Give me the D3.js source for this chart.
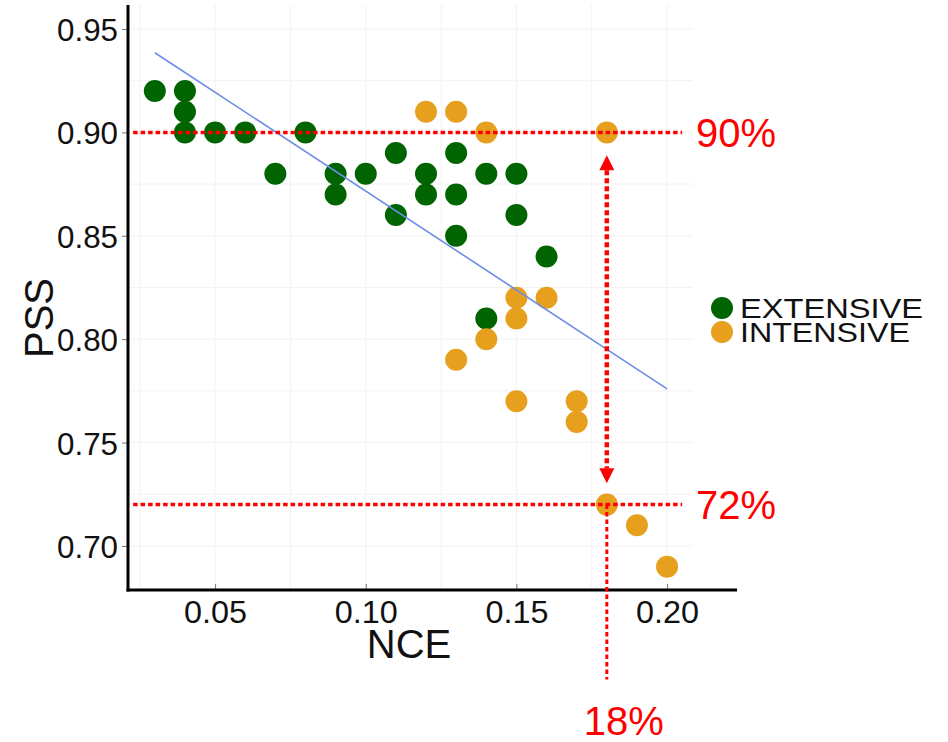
<!DOCTYPE html>
<html>
<head>
<meta charset="utf-8">
<script src="https://cdn.jsdelivr.net/npm/d3@7"></script>
<style>
  body { margin: 0; background: #fff; }
  text { font-family: "Liberation Sans", Arial, sans-serif; }
</style>
</head>
<body>
<div id="container"></div>
<script>
//-----------------------------DATA-----------------------------//
var extX = [0.03, 0.04, 0.04, 0.04, 0.05, 0.06, 0.07, 0.08, 0.09, 0.09, 0.10,
            0.11, 0.11, 0.12, 0.12, 0.13, 0.13, 0.13, 0.14, 0.14, 0.15, 0.15, 0.16];
var extY = [0.92, 0.92, 0.91, 0.90, 0.90, 0.90, 0.88, 0.90, 0.88, 0.87, 0.88,
            0.89, 0.86, 0.88, 0.87, 0.89, 0.87, 0.85, 0.88, 0.81, 0.88, 0.86, 0.84];

var intX = [0.12, 0.13, 0.14, 0.18, 0.15, 0.15, 0.16, 0.14, 0.13, 0.15, 0.17, 0.17, 0.18, 0.19, 0.20];
var intY = [0.91, 0.91, 0.90, 0.90, 0.82, 0.81, 0.82, 0.80, 0.79, 0.77, 0.77, 0.76, 0.72, 0.71, 0.69];

// fitted line at its two ends
var trendX = [0.03, 0.20];
var trendY = [0.9385, 0.776];

var xTicks = [0.05, 0.10, 0.15, 0.20];
var yTicks = [0.70, 0.75, 0.80, 0.85, 0.90, 0.95];
var xMinor = [0.025, 0.075, 0.125, 0.175];
var yMinor = [0.725, 0.775, 0.825, 0.875, 0.925];

var groups = ["EXTENSIVE", "INTENSIVE"];
var groupColors = ["#006400", "#e6a01e"];

// annotation: reference levels
var refLevels = [0.90, 0.72];
var refLabels = ["90%", "72%"];
var refSpan = [0.0228, 0.205];
var refX = 0.18;
var refXLabel = "18%";
var arrowSpan = [0.8889, 0.7303];
var dropSpan = [0.72, 0.6354];

//-----------------------------SVG------------------------------//
const width = 948;
const height = 742;
const svg = d3.select("div#container").append("svg")
    .attr("width", width)
    .attr("height", height);

//----------------------------SCALES----------------------------//
const xScale = d3.scaleLinear().domain([0.0211, 0.2086]).range([128, 693]);
const yScale = d3.scaleLinear().domain([0.6787, 0.9616]).range([590, 5]);
const color = d3.scaleOrdinal().domain(groups).range(groupColors);

//-----------------------------GRID-----------------------------//
const grid = svg.append("g");
grid.selectAll("line.vx")
    .data(xTicks.concat(xMinor))
    .enter().append("line")
    .attr("x1", d => xScale(d)).attr("x2", d => xScale(d))
    .attr("y1", yScale.range()[0]).attr("y2", yScale.range()[1])
    .attr("stroke", "#f2f2f2").attr("stroke-width", 1);
grid.selectAll("line.hy")
    .data(yTicks.concat(yMinor))
    .enter().append("line")
    .attr("y1", d => yScale(d)).attr("y2", d => yScale(d))
    .attr("x1", xScale.range()[0]).attr("x2", xScale.range()[1])
    .attr("stroke", "#f2f2f2").attr("stroke-width", 1);

//-----------------------------AXES-----------------------------//
const xaxis = d3.axisBottom(xScale)
    .tickValues(xTicks)
    .tickFormat(d3.format(".2f"))
    .tickSize(-6)
    .tickPadding(12);

const yaxis = d3.axisLeft(yScale)
    .tickValues(yTicks)
    .tickFormat(d3.format(".2f"))
    .tickSize(6)
    .tickPadding(4);

const gx = svg.append("g")
    .attr("transform", "translate(0,590)")
    .call(xaxis);
gx.select(".domain").remove();
gx.selectAll(".tick line").attr("stroke", "#777").attr("stroke-width", 1);
gx.selectAll(".tick text")
    .attr("font-size", 32)
    .attr("fill", "#111")
    .attr("textLength", 63)
    .attr("lengthAdjust", "spacingAndGlyphs")
    .attr("dy", "0.71em")
    .attr("y", 10);

const gy = svg.append("g")
    .attr("transform", "translate(128,0)")
    .call(yaxis);
gy.select(".domain").remove();
gy.selectAll(".tick line").attr("stroke", "#777").attr("stroke-width", 1);
gy.selectAll(".tick text")
    .attr("font-size", 32)
    .attr("fill", "#111")
    .attr("textLength", 61)
    .attr("lengthAdjust", "spacingAndGlyphs")
    .attr("x", -10)
    .attr("dy", "0.36em");

// axis lines
svg.append("line")
    .attr("x1", 128).attr("x2", 128).attr("y1", 5).attr("y2", 591.5)
    .attr("stroke", "#000").attr("stroke-width", 3);
svg.append("line")
    .attr("x1", 126.5).attr("x2", 737).attr("y1", 590).attr("y2", 590)
    .attr("stroke", "#000").attr("stroke-width", 3);

// axis titles
svg.append("text")
    .attr("x", 409).attr("y", 658)
    .attr("text-anchor", "middle")
    .attr("font-size", 40)
    .attr("fill", "#111")
    .text("NCE");

svg.append("text")
    .attr("transform", "translate(53,318) rotate(-90)")
    .attr("text-anchor", "middle")
    .attr("font-size", 40)
    .attr("fill", "#111")
    .text("PSS");

//---------------------------POINTS-----------------------------//
const points = extX.map((x, i) => ({x: x, y: extY[i], g: groups[0]}))
    .concat(intX.map((x, i) => ({x: x, y: intY[i], g: groups[1]})));

svg.append("g").selectAll("circle")
    .data(points)
    .enter().append("circle")
    .attr("cx", d => xScale(d.x))
    .attr("cy", d => yScale(d.y))
    .attr("r", 11)
    .attr("fill", d => color(d.g));

//----------------------------TREND-----------------------------//
const line = d3.line()
    .x(d => xScale(d[0]))
    .y(d => yScale(d[1]));

svg.append("path")
    .datum(trendX.map((x, i) => [x, trendY[i]]))
    .attr("d", line)
    .attr("fill", "none")
    .attr("stroke", "#6d8ee6")
    .attr("stroke-width", 1.6);

//-------------------------ANNOTATIONS--------------------------//
const red = "#ff0000";

svg.append("g").selectAll("line")
    .data(refLevels)
    .enter().append("line")
    .attr("x1", xScale(refSpan[0])).attr("x2", xScale(refSpan[1]))
    .attr("y1", d => yScale(d)).attr("y2", d => yScale(d))
    .attr("stroke", red)
    .attr("stroke-width", 3.5)
    .attr("stroke-dasharray", "4.5,3");

svg.append("g").selectAll("text")
    .data(refLevels)
    .enter().append("text")
    .attr("x", 696)
    .attr("y", d => yScale(d))
    .attr("dy", "0.36em")
    .attr("font-size", 40)
    .attr("fill", red)
    .text((d, i) => refLabels[i]);

// double arrow between the two levels
const ah = 15, aw = 7.5;
const ax = xScale(refX);
const aTop = yScale(arrowSpan[0]);
const aBot = yScale(arrowSpan[1]);

svg.append("line")
    .attr("x1", ax).attr("x2", ax)
    .attr("y1", aTop + ah).attr("y2", aBot - ah)
    .attr("stroke", red)
    .attr("stroke-width", 4.5)
    .attr("stroke-dasharray", "5,3");

svg.append("path")
    .attr("d", "M" + ax + "," + aTop + "L" + (ax - aw) + "," + (aTop + ah) + "L" + (ax + aw) + "," + (aTop + ah) + "Z")
    .attr("fill", red);
svg.append("path")
    .attr("d", "M" + ax + "," + aBot + "L" + (ax - aw) + "," + (aBot - ah) + "L" + (ax + aw) + "," + (aBot - ah) + "Z")
    .attr("fill", red);

// drop line to the x label
svg.append("line")
    .attr("x1", ax).attr("x2", ax)
    .attr("y1", yScale(dropSpan[0])).attr("y2", yScale(dropSpan[1]))
    .attr("stroke", red)
    .attr("stroke-width", 3)
    .attr("stroke-dasharray", "4.5,3");

svg.append("text")
    .attr("x", ax + 17)
    .attr("y", 735)
    .attr("text-anchor", "middle")
    .attr("font-size", 40)
    .attr("fill", red)
    .text(refXLabel);

//----------------------------LEGEND----------------------------//
const legend = svg.append("g").selectAll("g")
    .data(groups)
    .enter().append("g")
    .attr("transform", (d, i) => "translate(722," + (308 + i * 24) + ")");

legend.append("circle")
    .attr("r", 11)
    .attr("fill", d => color(d));

legend.append("text")
    .attr("x", 18)
    .attr("y", 10)
    .attr("font-size", 27)
    .attr("fill", "#111")
    .attr("textLength", (d, i) => [183, 170][i])
    .attr("lengthAdjust", "spacingAndGlyphs")
    .text(d => d);
</script>
</body>
</html>
